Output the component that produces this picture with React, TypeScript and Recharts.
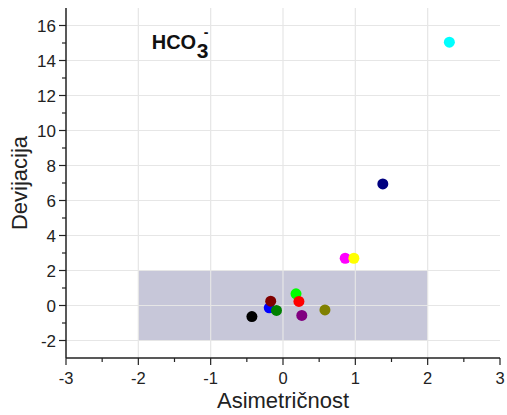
import React from "react";
import {
  ScatterChart,
  Scatter,
  XAxis,
  YAxis,
  ReferenceArea,
  ReferenceLine,
  ReferenceDot,
} from "recharts";

// samples, in drawing order (later ones sit on top)
const sampleColors = [
  "#000000", "#0000ff", "#800000", "#008000", "#00ff00", "#ff0000",
  "#800080", "#808000", "#ff00ff", "#ffff00", "#000080", "#00ffff",
];
const asymmetry = [-0.43, -0.19, -0.17, -0.09, 0.18, 0.22, 0.26, 0.58, 0.86, 0.98, 1.38, 2.3];
const deviation = [-0.63, -0.13, 0.25, -0.28, 0.67, 0.23, -0.57, -0.25, 2.7, 2.7, 6.95, 15.05];

const xMajorTicks = [-3, -2, -1, 0, 1, 2, 3];
const xMinorTicks = [-2.5, -1.5, -0.5, 0.5, 1.5, 2.5];
const yMajorTicks = [-2, 0, 2, 4, 6, 8, 10, 12, 14, 16];
const yMinorTicks = [-1, 1, 3, 5, 7, 9, 11, 13, 15];
const xGridLines = [-2, -1, 0, 1, 2];

const points = asymmetry.map((x, i) => ({
  x,
  y: deviation[i],
  color: sampleColors[i],
}));

const allX = [...xMajorTicks, ...xMinorTicks].sort((a, b) => a - b);
const allY = [...yMajorTicks, ...yMinorTicks].sort((a, b) => a - b);

const ink = "#222";

const XTick = ({ x, y, payload }: any) => {
  const major = xMajorTicks.includes(payload.value);
  return (
    <g>
      <line x1={x} x2={x} y1={y} y2={y + (major ? 7 : 4)} stroke={ink} strokeWidth={1.2} />
      {major && (
        <text x={x} y={y + 26} textAnchor="middle" fontSize={16.5} fill={ink}>
          {payload.value}
        </text>
      )}
    </g>
  );
};

const YTick = ({ x, y, payload }: any) => {
  const major = yMajorTicks.includes(payload.value);
  return (
    <g>
      <line x1={x - (major ? 7 : 4)} x2={x} y1={y} y2={y} stroke={ink} strokeWidth={1.2} />
      {major && (
        <text x={x - 10} y={y + 6} textAnchor="end" fontSize={17} fill={ink}>
          {payload.value}
        </text>
      )}
    </g>
  );
};

const IonLabel = ({ cx, cy }: any) => (
  <g fill="#111" fontWeight="bold">
    <text x={cx} y={cy} fontSize={20}>HCO</text>
    <text x={cx + 45} y={cy + 9} fontSize={21}>3</text>
    <text x={cx + 52} y={cy - 12} fontSize={14}>-</text>
  </g>
);

export default function App() {
  return (
    <div style={{ width: 507, height: 415, fontFamily: "'Liberation Sans', Arial, sans-serif" }}>
      <style>{`body{margin:0}`}</style>
      <ScatterChart
        width={507}
        height={415}
        margin={{ top: 8, right: 7, bottom: 0, left: 0 }}
      >
        {xGridLines.map((v) => (
          <ReferenceLine key={`gx${v}`} x={v} stroke="#e6e6e6" strokeWidth={1.2} />
        ))}
        {yMajorTicks.map((v) => (
          <ReferenceLine key={`gy${v}`} y={v} stroke="#e6e6e6" strokeWidth={1.2} />
        ))}
        <ReferenceArea
          x1={-2}
          x2={2}
          y1={-2}
          y2={2}
          fill="#b9b9cf"
          fillOpacity={0.8}
          stroke="none"
        />
        <XAxis
          type="number"
          dataKey="x"
          domain={[-3, 3]}
          ticks={allX}
          interval={0}
          height={57}
          tickSize={0}
          tickMargin={0}
          tickLine={false}
          tick={<XTick />}
          axisLine={{ stroke: ink, strokeWidth: 1.5 }}
          label={{
            value: "Asimetričnost",
            position: "insideBottom",
            offset: 7,
            fontSize: 22,
            fill: ink,
          }}
        />
        <YAxis
          type="number"
          dataKey="y"
          domain={[-3, 17]}
          ticks={allY}
          interval={0}
          width={66}
          tickSize={0}
          tickMargin={0}
          tickLine={false}
          tick={<YTick />}
          axisLine={{ stroke: ink, strokeWidth: 1.5 }}
          label={{
            value: "Devijacija",
            angle: -90,
            position: "insideLeft",
            offset: 19,
            fontSize: 22,
            fill: ink,
            style: { textAnchor: "middle" },
          }}
        />
        <ReferenceDot x={-1.815} y={14.67} r={0} shape={<IonLabel />} />
        <Scatter
          data={points}
          isAnimationActive={false}
          shape={(p: any) => <circle cx={p.cx} cy={p.cy} r={5.5} fill={p.payload.color} />}
        />
      </ScatterChart>
    </div>
  );
}
